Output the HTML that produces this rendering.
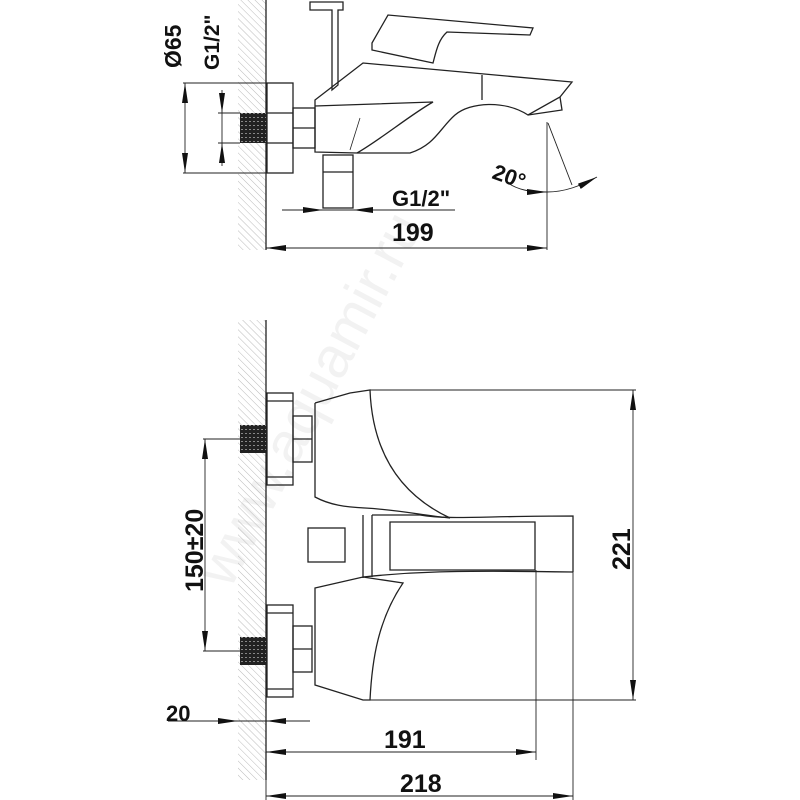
<!DOCTYPE html>
<html><head><meta charset="utf-8"><style>
html,body{margin:0;padding:0;background:#fff;}
svg{display:block;}
text{font-family:"Liberation Sans Narrow","Liberation Sans",sans-serif;font-weight:bold;fill:#111;}
</style></head><body>
<svg width="800" height="800" viewBox="0 0 800 800" xmlns="http://www.w3.org/2000/svg">
<defs>
<pattern id="h" width="5" height="5" patternUnits="userSpaceOnUse" patternTransform="rotate(-45)">
<line x1="0" y1="0" x2="0" y2="5" stroke="#bbb" stroke-width="1"/>
</pattern>
<pattern id="t" width="4" height="4" patternUnits="userSpaceOnUse">
<rect width="4" height="4" fill="#222"/><rect x="1" y="1" width="2" height="1" fill="#888"/>
</pattern>
<marker id="a" viewBox="0 0 20 6" refX="20" refY="3" markerWidth="20" markerHeight="6" markerUnits="userSpaceOnUse" orient="auto-start-reverse">
<path d="M0,0 L20,3 L0,6 Z" fill="#111"/>
</marker>
</defs>
<text x="0" y="0" font-size="58" style="fill:#f2f2f2;font-weight:normal" transform="translate(230,590) rotate(-62)">www.aquamir.ru</text>
<g stroke="#222" stroke-width="1.3" fill="none">
<!-- TOP VIEW -->
<rect x="238" y="0" width="28" height="250" fill="url(#h)" stroke="none"/>
<line x1="266" y1="0" x2="266" y2="250"/>
<rect x="240" y="113" width="26" height="30" fill="url(#t)" stroke="none"/>
<rect x="267" y="83" width="26" height="90"/>
<line x1="267" y1="113" x2="293" y2="113"/><line x1="267" y1="143" x2="293" y2="143"/>
<rect x="293" y="108" width="22" height="40"/>
<line x1="293" y1="128" x2="315" y2="128"/>
<path d="M315,100 L363,63 L572,82 L560,97 L528,115 C505,100 470,102 455,115 C440,128 435,145 410,153 L357,153 L315,152 Z"/>
<path d="M315,106 L433,102 C410,115 380,140 357,153"/>
<line x1="482" y1="75" x2="482" y2="100"/>
<path d="M560,97 L562,110 L528,115"/>
<line x1="360" y1="118" x2="350" y2="150" stroke-width="0.8"/>
<path d="M372,43 L388,15 L533,28 L530,35 L447,32 C438,40 436,52 433,63 L372,50 Z"/>
<path d="M310,2 L343,2 L343,10 L338,10 L338,85 L332,90 L332,10 L310,10 Z"/>
<rect x="323" y="155" width="30" height="53"/>
<line x1="323" y1="172" x2="353" y2="172"/>
<g stroke-width="0.9">
<line x1="183" y1="83" x2="267" y2="83"/><line x1="183" y1="173" x2="292" y2="173"/>
<line x1="185" y1="83" x2="185" y2="173" marker-start="url(#a)" marker-end="url(#a)"/>
<line x1="218" y1="113" x2="240" y2="113"/><line x1="218" y1="143" x2="240" y2="143"/>
<line x1="222" y1="90" x2="222" y2="113" marker-end="url(#a)"/>
<line x1="222" y1="166" x2="222" y2="143" marker-end="url(#a)"/>
<line x1="222" y1="113" x2="222" y2="143"/>
<line x1="282" y1="210" x2="455" y2="210"/>
<line x1="302" y1="210" x2="323" y2="210" marker-end="url(#a)"/>
<line x1="375" y1="210" x2="353" y2="210" marker-end="url(#a)"/>
<line x1="266" y1="248" x2="547" y2="248" marker-start="url(#a)" marker-end="url(#a)"/>
<line x1="547" y1="122" x2="547" y2="250"/>
<line x1="548" y1="123" x2="572" y2="185"/>
<path d="M508,183 C518,190 530,192 547,192" marker-end="url(#a)"/>
<path d="M547,192 C565,192 580,186 597,177" marker-end="url(#a)"/>
</g>
<!-- BOTTOM VIEW -->
<rect x="238" y="320" width="28" height="460" fill="url(#h)" stroke="none"/>
<line x1="266" y1="320" x2="266" y2="780"/>
<rect x="240" y="425" width="26" height="28" fill="url(#t)" stroke="none"/>
<rect x="240" y="637" width="26" height="28" fill="url(#t)" stroke="none"/>
<rect x="267" y="393" width="26" height="92"/>
<line x1="267" y1="401" x2="293" y2="401"/><line x1="267" y1="477" x2="293" y2="477"/>
<rect x="293" y="416" width="19" height="46"/><line x1="293" y1="439" x2="312" y2="439"/>
<rect x="267" y="605" width="26" height="92"/>
<line x1="267" y1="613" x2="293" y2="613"/><line x1="267" y1="689" x2="293" y2="689"/>
<rect x="293" y="626" width="19" height="46"/><line x1="293" y1="649" x2="312" y2="649"/>
<path d="M315,403 L350,393 L370,390 C372,440 390,490 450,518"/>
<path d="M315,403 L315,497 C330,505 345,507 365,508 C400,510 420,515 450,518"/>
<path d="M315,588 L363,577 L403,583 C378,620 372,660 370,700 L363,700 L315,685 Z"/>
<path d="M363,577 C410,572 450,570 573,572"/>
<path d="M363,515 L363,578 M372,515 L372,577"/>
<path d="M372,515 L420,515 C450,520 480,516 573,516 L573,572"/>
<path d="M390,522 L535,522 L535,570 L390,570 Z"/>
<rect x="308" y="528" width="37" height="34"/>
<g stroke-width="0.9">
<line x1="536" y1="570" x2="536" y2="760"/>
<line x1="370" y1="390" x2="636" y2="390"/><line x1="370" y1="700" x2="636" y2="700"/>
<line x1="633" y1="390" x2="633" y2="700" marker-start="url(#a)" marker-end="url(#a)"/>
<line x1="203" y1="439" x2="240" y2="439"/><line x1="203" y1="651" x2="240" y2="651"/>
<line x1="205" y1="439" x2="205" y2="651" marker-start="url(#a)" marker-end="url(#a)"/>
<line x1="168" y1="721" x2="238" y2="721" marker-end="url(#a)"/>
<line x1="310" y1="721" x2="266" y2="721" marker-end="url(#a)"/>
<line x1="266" y1="721" x2="238" y2="721"/>
<line x1="266" y1="752" x2="536" y2="752" marker-start="url(#a)" marker-end="url(#a)"/>
<line x1="266" y1="780" x2="266" y2="800"/>
<line x1="266" y1="796" x2="573" y2="796" marker-start="url(#a)" marker-end="url(#a)"/>
<line x1="573" y1="572" x2="573" y2="800"/>
</g>
</g>
<text x="0" y="0" font-size="23" transform="translate(181,68) rotate(-90)">Ø65</text>
<text x="0" y="0" font-size="21" transform="translate(219,70) rotate(-90)">G1/2"</text>
<text x="392" y="206" font-size="22">G1/2"</text>
<text x="392" y="241" font-size="25">199</text>
<text x="0" y="0" font-size="22" transform="translate(491,178) rotate(20)">20°</text>
<text x="0" y="0" font-size="25" transform="translate(203,592) rotate(-90)">150±20</text>
<text x="0" y="0" font-size="25" transform="translate(630,570) rotate(-90)">221</text>
<text x="166" y="721" font-size="22">20</text>
<text x="384" y="748" font-size="25">191</text>
<text x="400" y="792" font-size="25">218</text>
</svg>
</body></html>
